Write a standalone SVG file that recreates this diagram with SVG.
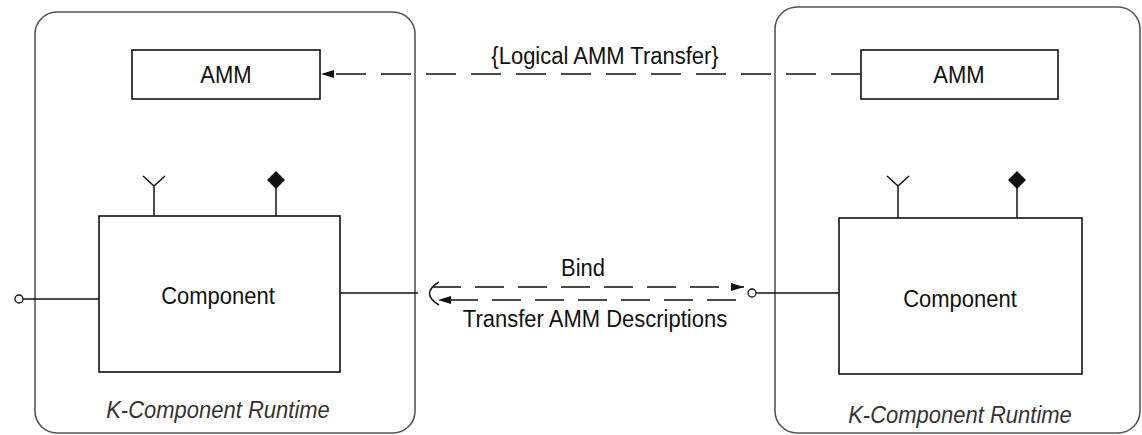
<svg xmlns="http://www.w3.org/2000/svg" width="1142" height="435" viewBox="0 0 1142 435">
<style>
.cont{fill:none;stroke:#555;stroke-width:1.6}
.box{fill:#fff;stroke:#111;stroke-width:1.6}
.ln{fill:none;stroke:#111;stroke-width:1.5}
.dash{fill:none;stroke:#111;stroke-width:1.5;stroke-dasharray:29 14}
.t{font-family:"Liberation Sans",Arial,sans-serif;font-size:22px;fill:#111;text-anchor:middle}
.it{font-family:"Liberation Sans",Arial,sans-serif;font-size:22px;font-style:italic;fill:#333;text-anchor:middle}
</style>
<defs>
<marker id="arr" viewBox="0 0 13 8" refX="13" refY="4" markerWidth="13" markerHeight="8" markerUnits="userSpaceOnUse" orient="auto">
<path d="M0,0 L13,4 L0,8 Z" fill="#111"/>
</marker>
</defs>
<rect width="1142" height="435" fill="#fff"/>
<g id="runtime-left">
<rect class="cont" x="35" y="12" width="380" height="421" rx="22"/>
<text class="it" transform="translate(218,418) scale(1,1.12)">K-Component Runtime</text>
</g>
<g id="runtime-right">
<rect class="cont" x="775" y="7" width="365" height="426" rx="22"/>
<text class="it" transform="translate(960,423) scale(1,1.12)">K-Component Runtime</text>
</g>
<g id="amm-left">
<rect class="box" x="132" y="50" width="188" height="49"/>
<text class="t" transform="translate(226,83) scale(1,1.12)">AMM</text>
</g>
<g id="amm-right">
<rect class="box" x="861" y="50" width="197" height="49"/>
<text class="t" transform="translate(959,83) scale(1,1.12)">AMM</text>
</g>
<g id="component-left">
<path class="ln" d="M143,176 L154,186 L165,176 M154,186 L154,216"/>
<polygon points="276,171 285,180 276,189 267,180" fill="#111"/>
<path class="ln" d="M276,186 L276,216"/>
<path class="ln" d="M23,299 L99,299"/>
<circle cx="19" cy="299" r="4" fill="#fff" stroke="#111" stroke-width="1.3"/>
<path class="ln" d="M340,293 L418,293"/>
<path class="ln" d="M439,282 Q420,293.5 439,305"/>
<rect class="box" x="99" y="216" width="241" height="156"/>
<text class="t" transform="translate(218,304) scale(1,1.12)">Component</text>
</g>
<g id="component-right">
<path class="ln" d="M887,176 L898,186 L909,176 M898,186 L898,218"/>
<polygon points="1017,171 1026,180 1017,189 1008,180" fill="#111"/>
<path class="ln" d="M1017,186 L1017,218"/>
<path class="ln" d="M756,293 L839,293"/>
<circle cx="752" cy="293" r="4" fill="#fff" stroke="#111" stroke-width="1.3"/>
<rect class="box" x="839" y="218" width="243" height="156"/>
<text class="t" transform="translate(960,307) scale(1,1.12)">Component</text>
</g>
<g id="connectors">
<path class="dash" d="M861,74 L321,74" marker-end="url(#arr)" style="stroke-dasharray:30 15"/>
<text class="t" transform="translate(605,64) scale(1,1.12)">{Logical AMM Transfer}</text>
<path class="dash" d="M432,287 L744,287" marker-end="url(#arr)"/>
<text class="t" transform="translate(583,276) scale(1,1.12)">Bind</text>
<path class="dash" d="M736,300 L438,300" marker-end="url(#arr)"/>
<text class="t" transform="translate(595,327) scale(1,1.12)">Transfer AMM Descriptions</text>
</g>
</svg>
